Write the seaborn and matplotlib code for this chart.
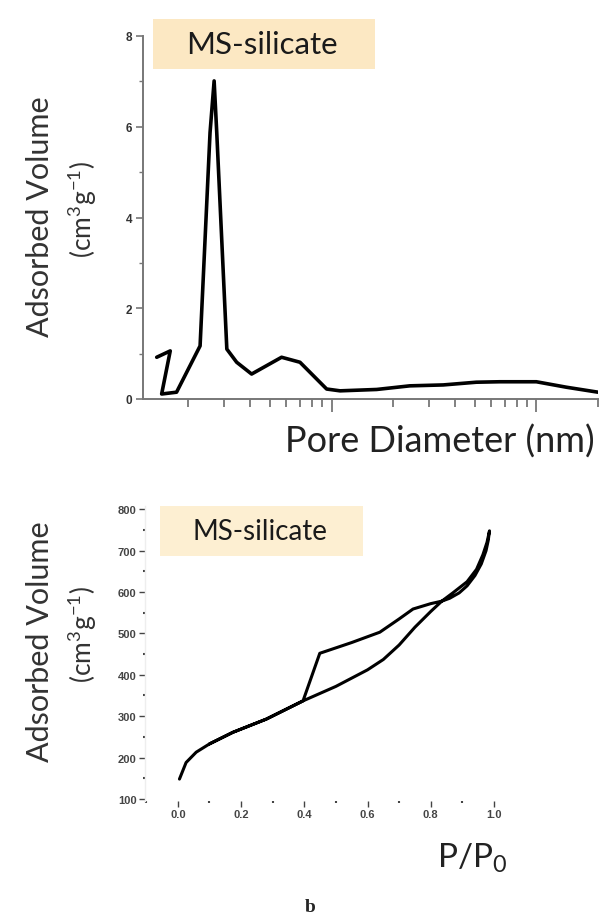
import numpy as np
import pandas as pd
import matplotlib
matplotlib.use("Agg")
import matplotlib.pyplot as plt
import seaborn as sns
from matplotlib.ticker import LogLocator, NullFormatter, MultipleLocator, FormatStrFormatter
from matplotlib.patches import Rectangle

sns.set_theme(style="white")
plt.rcParams['font.family'] = ['Lato', 'DejaVu Sans']

# ---- data: pore size distribution ----
pore_diameter = [1.40, 1.63, 1.48, 1.75, 2.28, 2.55, 2.67, 2.75, 3.08, 3.44, 4.07,
                 5.70, 7.01, 9.46, 11.0, 16.6, 24.1, 35.1, 50.9, 66.2, 100, 140, 200]
pore_volume = [0.92, 1.06, 0.11, 0.15, 1.17, 5.87, 7.01, 5.87, 1.10, 0.81, 0.55,
               0.92, 0.81, 0.22, 0.18, 0.21, 0.29, 0.31, 0.37, 0.38, 0.38, 0.26, 0.15]

# ---- data: N2 isotherm (adsorption then desorption) ----
rel_pressure = [0.005, 0.026, 0.058, 0.100, 0.174, 0.280, 0.396, 0.500, 0.600, 0.650,
                0.700, 0.750, 0.800, 0.835, 0.870, 0.915, 0.945, 0.965, 0.978, 0.986,
                0.982, 0.975, 0.960, 0.940, 0.915, 0.890, 0.860, 0.835, 0.800, 0.744,
                0.700, 0.639, 0.550, 0.449, 0.396, 0.280, 0.174, 0.100]
ads_volume = [148, 188, 213, 233, 261, 293, 337, 372, 412, 437,
              472, 515, 553, 578, 598, 625, 655, 690, 720, 748,
              725, 700, 668, 640, 615, 598, 585, 578, 572, 559,
              535, 503, 478, 452, 337, 293, 261, 233]

title_text = "MS-silicate"
ylabel_main = "Adsorbed Volume"
ylabel_unit = "(cm$^{\\mathregular{3}}$g$^{\\mathregular{-1}}$)"

W, H = 599, 920
fig = plt.figure(figsize=(W / 100, H / 100), dpi=100)

def ax_rect(l, t, r, b):
    return [l / W, 1 - b / H, (r - l) / W, (b - t) / H]

spine_col = "#777777"
tick_col = "#333333"

# ================= top panel =================
ax1 = fig.add_axes(ax_rect(143, 37, 598, 400))
df1 = pd.DataFrame({"d": pore_diameter, "v": pore_volume})
sns.lineplot(data=df1, x="d", y="v", sort=False, estimator=None,
             color="black", lw=2.6, ax=ax1)
ax1.set_xscale("log")
ax1.set_xlim(1.2, 200)
ax1.set_ylim(0, 8)
ax1.yaxis.set_major_locator(MultipleLocator(2))
ax1.yaxis.set_minor_locator(MultipleLocator(1))
ax1.xaxis.set_major_locator(LogLocator(base=10, numticks=10))
ax1.xaxis.set_minor_locator(LogLocator(base=10, subs=np.arange(2, 10), numticks=20))
ax1.xaxis.set_major_formatter(NullFormatter())
ax1.xaxis.set_minor_formatter(NullFormatter())
for s in ["top", "right"]:
    ax1.spines[s].set_visible(False)
for s in ["left", "bottom"]:
    ax1.spines[s].set_color(spine_col)
    ax1.spines[s].set_linewidth(1.4)
ax1.tick_params(axis="both", which="both", direction="out", colors=spine_col,
                labelcolor=tick_col, bottom=True, left=True)
ax1.tick_params(axis="y", which="major", length=5, width=1.2, labelsize=8.5, pad=3)
ax1.tick_params(axis="y", which="minor", length=3, width=1.0)
ax1.tick_params(axis="x", which="major", length=9, width=1.3)
ax1.tick_params(axis="x", which="minor", length=6, width=1.3)
for lab in ax1.get_yticklabels():
    lab.set_fontweight("bold")
    lab.set_family(["Liberation Sans", "DejaVu Sans"])
ax1.set_xlabel("")
ax1.set_ylabel("")

fig.patches.append(Rectangle((153 / W, 1 - 70 / H), (375 - 153) / W, 50 / H,
                             transform=fig.transFigure, facecolor="#fce8c3",
                             edgecolor="none", zorder=3))
fig.text(262 / W, 1 - 45 / H, title_text, ha="center", va="center",
         fontsize=22.5, color="#1a1a1a", zorder=4)
fig.text(40 / W, 1 - 217 / H, ylabel_main, rotation=90, ha="center", va="center",
         fontsize=22, color="#333333")
fig.text(82 / W, 1 - 210 / H, ylabel_unit, rotation=90, ha="center", va="center",
         fontsize=19, color="#333333")
fig.text(440 / W, 1 - 442 / H, "Pore Diameter (nm)", ha="center", va="center",
         fontsize=26, color="#222222")

# ================= bottom panel =================
ax2 = fig.add_axes(ax_rect(145, 507, 505, 802))
df2 = pd.DataFrame({"p": rel_pressure, "v": ads_volume})
sns.lineplot(data=df2, x="p", y="v", sort=False, estimator=None,
             color="black", lw=2.2, ax=ax2)
ax2.set_xlim(-0.104, 1.035)
ax2.set_ylim(95, 808)
ax2.xaxis.set_major_locator(MultipleLocator(0.2))
ax2.xaxis.set_minor_locator(MultipleLocator(0.1))
ax2.yaxis.set_major_locator(MultipleLocator(100))
ax2.yaxis.set_minor_locator(MultipleLocator(50))
ax2.xaxis.set_major_formatter(FormatStrFormatter("%.1f"))
ax2.yaxis.set_major_formatter(FormatStrFormatter("%d"))
for s in ["top", "right", "bottom"]:
    ax2.spines[s].set_visible(False)
ax2.spines["left"].set_color("#eeeeee")
ax2.spines["left"].set_linewidth(1.0)
ax2.tick_params(axis="both", which="both", direction="out", colors="#444444",
                labelcolor="#444444", bottom=True, left=True)
ax2.tick_params(axis="both", which="major", length=4, width=1.0, labelsize=8, pad=2)
ax2.tick_params(axis="both", which="minor", length=1.5, width=1.5)
for lab in ax2.get_yticklabels() + ax2.get_xticklabels():
    lab.set_fontweight("bold")
    lab.set_family(["Liberation Sans", "DejaVu Sans"])
ax2.set_xlabel("")
ax2.set_ylabel("")

fig.patches.append(Rectangle((160 / W, 1 - 557 / H), (363 - 160) / W, 50 / H,
                             transform=fig.transFigure, facecolor="#fdefd2",
                             edgecolor="none", zorder=3))
fig.text(260 / W, 1 - 532 / H, title_text, ha="center", va="center",
         fontsize=20, color="#1a1a1a", zorder=4)
fig.text(40 / W, 1 - 642 / H, ylabel_main, rotation=90, ha="center", va="center",
         fontsize=22, color="#333333")
fig.text(82 / W, 1 - 635 / H, ylabel_unit, rotation=90, ha="center", va="center",
         fontsize=19, color="#333333")
fig.text(472 / W, 1 - 858 / H, "P/P$_{\\mathregular{0}}$", ha="center", va="center",
         fontsize=24, color="#222222")
fig.text(310 / W, 1 - 908 / H, "b", ha="center", va="center",
         fontsize=14, fontweight="bold", family=["Liberation Serif", "DejaVu Serif"])

fig.savefig("out.png", dpi=100)
